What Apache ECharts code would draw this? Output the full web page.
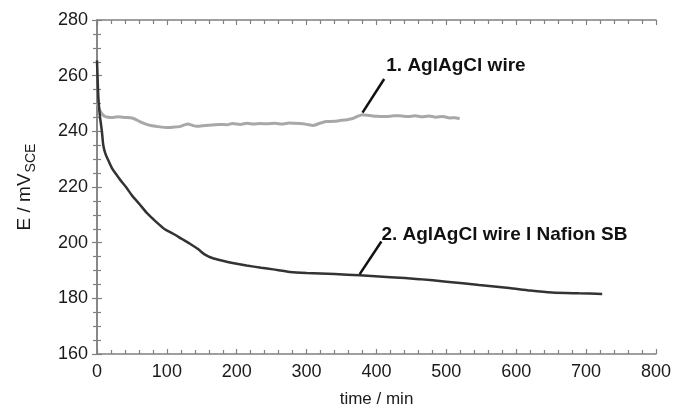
<!DOCTYPE html>
<html>
<head>
<meta charset="utf-8">
<script src="https://cdn.jsdelivr.net/npm/echarts@6/dist/echarts.min.js"></script>
<style>
  html, body { margin: 0; padding: 0; background: #fff; }
  #chart { width: 674px; height: 413px; }
</style>
</head>
<body>
<div id="chart"></div>
<script>
// time (min), potential (mV vs SCE)
const wireData = [
  [0, 250], [2, 249], [4, 247.5], [8, 246], [12, 245.3], [20, 245], [30, 245.2], [40, 245],
  [50, 244.8], [56, 244.2], [62, 243.4], [70, 242.6], [79, 242], [90, 241.6], [100, 241.4],
  [109, 241.5], [118, 241.7], [125, 242.3], [130, 242.6], [137, 242.1], [143, 241.8],
  [155, 242.1], [165, 242.3], [176, 242.5], [186, 242.4], [194, 242.8], [205, 242.5],
  [215, 242.9], [225, 242.6], [234, 242.8], [243, 242.7], [255, 242.9], [265, 242.6],
  [275, 243], [290, 242.8], [300, 242.5], [309, 242.1], [318, 242.8], [328, 243.5],
  [340, 243.6], [350, 244], [358, 244.2], [366, 244.6], [372, 245.3], [380, 246],
  [390, 245.7], [400, 245.4], [414, 245.3], [425, 245.6], [433, 245.6], [445, 245.3],
  [455, 245.6], [465, 245.2], [475, 245.5], [485, 245.1], [495, 245.3], [505, 244.8],
  [512, 244.9], [519, 244.5],
]
const nafionData = [
  [0, 265.5], [2, 252], [4, 245.8], [7, 240], [9, 235], [12, 232], [16, 229.7], [22, 226.5],
  [28, 224.4], [35, 222], [42, 219.8], [50, 217], [61, 213.8], [72, 210.5], [85, 207.4],
  [97, 204.8], [109, 203.2], [121, 201.4], [133, 199.6], [145, 197.6], [154, 195.8],
  [165, 194.5], [180, 193.5], [196, 192.6], [214, 191.8], [235, 191], [252, 190.4],
  [276, 189.5], [300, 189.1], [340, 188.7], [376, 188.3], [420, 187.6], [461, 186.9],
  [500, 186], [547, 184.8], [590, 183.7], [620, 182.8], [651, 182.1], [690, 181.8],
  [723, 181.6],
]
// leader lines and label anchors, in data coordinates
const wireLeader = [[411, 258.8], [380, 246.7]]
const nafionLeader = [[407, 200.4], [376, 188.7]]
const wireLabel = { text: '1. AglAgCl wire', at: [414, 263.7] }
const nafionLabel = { text: '2. AglAgCl wire l Nafion SB', at: [407, 202.8] }

const font = 'Liberation Sans, Arial, sans-serif'
const axisColor = '#808080'

const baseAxis = {
  axisLine: { show: true, lineStyle: { color: axisColor, width: 1.5 } },
  axisTick: { show: true, inside: true, length: 5, lineStyle: { color: axisColor, width: 1.2 } },
  minorTick: { show: true, length: 4, lineStyle: { color: axisColor, width: 1.2 } },
  splitLine: { show: false },
  axisLabel: { color: '#1a1a1a', fontSize: 18, fontFamily: font },
}

const chart = echarts.init(document.getElementById('chart'))

const leaderLine = (pts) => ({
  silent: true,
  symbol: 'none',
  label: { show: false },
  lineStyle: { color: '#111', width: 2.5, type: 'solid' },
  data: [[{ coord: pts[0] }, { coord: pts[1] }]],
})

chart.setOption({
  animation: false,
  grid: { left: 97, right: 17, top: 20, bottom: 54 },
  xAxis: [
    {
      ...baseAxis,
      type: 'value',
      min: 0,
      max: 800,
      interval: 100,
      minorTick: { ...baseAxis.minorTick, splitNumber: 5 },
      axisLabel: { ...baseAxis.axisLabel, margin: 9 },
      name: 'time / min',
      nameLocation: 'middle',
      nameGap: 37,
      nameTextStyle: { color: '#1a1a1a', fontSize: 17, fontFamily: font },
    },
    {
      ...baseAxis,
      type: 'value',
      position: 'top',
      min: 0,
      max: 800,
      interval: 100,
      minorTick: { ...baseAxis.minorTick, splitNumber: 5 },
      axisLabel: { show: false },
    },
  ],
  yAxis: [
    {
      ...baseAxis,
      type: 'value',
      min: 160,
      max: 280,
      interval: 20,
      minorTick: { ...baseAxis.minorTick, splitNumber: 4 },
      axisLabel: { ...baseAxis.axisLabel, margin: 9 },
      name: '{a|E / mV}{b|SCE}',
      nameLocation: 'middle',
      nameGap: 60,
      nameTextStyle: {
        rich: {
          a: { fontSize: 19, fontFamily: font, color: '#1a1a1a', lineHeight: 24 },
          b: { fontSize: 14, fontFamily: font, color: '#1a1a1a', lineHeight: 24, padding: [12, 0, 0, 1] },
        },
      },
    },
    {
      ...baseAxis,
      type: 'value',
      position: 'right',
      min: 160,
      max: 280,
      interval: 20,
      minorTick: { ...baseAxis.minorTick, splitNumber: 4 },
      axisLabel: { show: false },
    },
  ],
  series: [
    {
      name: '1. AglAgCl wire',
      type: 'line',
      data: wireData,
      symbol: 'none',
      smooth: 0.25,
      lineStyle: { color: '#a8a8a8', width: 3 },
      z: 2,
      markLine: leaderLine(wireLeader),
    },
    {
      name: '2. AglAgCl wire l Nafion SB',
      type: 'line',
      data: nafionData,
      symbol: 'none',
      smooth: 0.25,
      lineStyle: { color: '#333', width: 2.5 },
      z: 3,
      markLine: leaderLine(nafionLeader),
    },
  ],
})

const labelText = (lbl) => {
  const p = chart.convertToPixel({ gridIndex: 0 }, lbl.at)
  return {
    type: 'text',
    x: p[0],
    y: p[1],
    style: {
      text: lbl.text,
      fill: '#111',
      font: 'bold 19px ' + font,
      textAlign: 'left',
      textVerticalAlign: 'middle',
    },
  }
}

chart.setOption({ graphic: [labelText(wireLabel), labelText(nafionLabel)] })
</script>
</body>
</html>
